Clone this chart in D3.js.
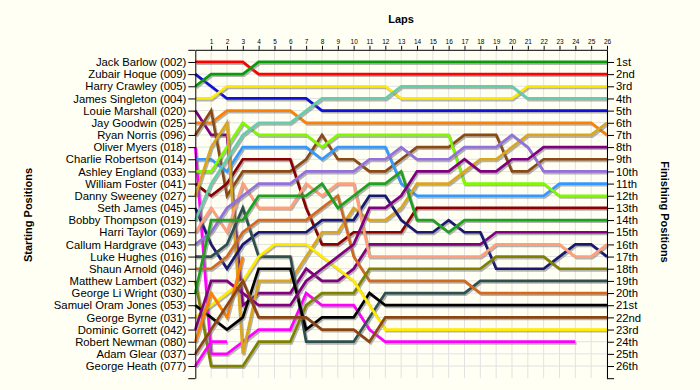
<!DOCTYPE html>
<html><head><meta charset="utf-8">
<script src="https://cdn.jsdelivr.net/npm/d3@7"></script>
<style>
html,body{margin:0;padding:0;background:#fffff4;}
svg{display:block;font-family:Arial,"Liberation Sans",sans-serif;}
</style>
</head><body>
<svg id="chart" width="700" height="390"></svg>
<script>
// ---------- data ----------
const drivers = ["Jack Barlow (002)","Zubair Hoque (009)","Harry Crawley (005)","James Singleton (004)",
"Louie Marshall (020)","Jay Goodwin (025)","Ryan Norris (096)","Oliver Myers (018)","Charlie Robertson (014)",
"Ashley England (033)","William Foster (041)","Danny Sweeney (027)","Seth James (045)","Bobby Thompson (019)",
"Harri Taylor (069)","Callum Hardgrave (043)","Luke Hughes (016)","Shaun Arnold (046)","Matthew Lambert (032)",
"George Li Wright (030)","Samuel Oram Jones (053)","George Byrne (031)","Dominic Gorrett (042)","Robert Newman (080)",
"Adam Glear (037)","George Heath (077)"];
const finishLabels = ["1st","2nd","3rd","4th","5th","6th","7th","8th","9th","10th","11th","12th","13th","14th",
"15th","16th","17th","18th","19th","20th","21st","22nd","23rd","24th","25th","26th"];
const lapLabels = ["1","2","3","4","5","6","7","8","9","10","11","12","13","14","15","16","17","18","19","20","21","22","23","24","25","26"];

// position of each driver at lap 0..26 (null = retired)
const p01 = [1,1,1,1,2,2,2,2,2,2,2,2,2,2,2,2,2,2,2,2,2,2,2,2,2,2,2];
const p02 = [2,3,4,4,4,4,4,4,5,5,5,5,5,5,5,5,5,5,5,5,5,5,5,5,5,5,5];
const p03 = [3,2,2,2,1,1,1,1,1,1,1,1,1,1,1,1,1,1,1,1,1,1,1,1,1,1,1];
const p04 = [4,4,3,3,3,3,3,3,3,3,3,3,3,4,4,4,4,4,4,4,4,3,3,3,3,3,3];
const p05 = [5,7,7,21,20,20,20,18,19,19,18,16,16,16,16,16,16,16,16,15,15,15,15,15,15,15,15];
const p06 = [6,6,5,5,5,5,5,6,6,6,6,6,6,6,6,6,6,6,6,6,6,6,6,6,6,6,7];
const p07 = [7,5,12,10,10,10,10,9,7,9,9,10,10,9,8,8,8,7,7,7,10,10,9,9,9,9,9];
const p08 = [8,25,25,24,23,23,23,20,21,21,21,23,24,24,24,24,24,24,24,24,24,24,24,24,24,null,null];
const p09 = [9,9,10,8,8,8,8,8,9,8,8,8,8,11,12,12,12,12,12,12,12,12,12,11,11,11,11];
const p10 = [10,10,8,6,7,7,7,7,8,7,7,7,7,7,7,7,7,11,11,11,11,11,11,12,12,12,12];
const p11 = [11,12,11,9,9,9,9,13,16,16,15,15,15,15,13,13,13,13,13,13,13,13,13,13,13,13,13];
const p12 = [12,8,6,25,19,19,19,17,15,15,13,14,14,13,11,11,11,10,9,9,8,7,7,7,7,7,6];
const p13 = [13,16,18,16,15,15,15,15,14,14,14,12,12,14,15,15,14,15,15,18,18,18,18,17,16,16,17];
const p14 = [14,11,9,7,6,6,6,5,4,4,4,4,4,3,3,3,3,3,3,3,3,4,4,4,4,4,4];
const p15 = [15,13,15,11,13,13,13,11,12,11,11,17,17,17,17,17,17,17,17,16,16,16,16,16,17,17,16];
const p16 = [16,15,13,12,11,11,11,10,10,10,10,9,9,8,9,9,9,8,8,8,7,8,10,10,10,10,10];
const p17 = [17,17,16,13,17,17,17,24,24,24,24,22,20,20,20,20,20,20,19,19,19,19,19,19,19,19,19];
const p18 = [18,18,17,15,14,14,14,14,13,12,17,19,19,19,19,19,19,19,20,20,20,20,20,20,20,20,20];
const p19 = [19,26,26,26,24,24,24,21,20,20,20,18,18,18,18,18,18,18,18,17,17,17,17,18,18,18,18];
const p20 = [20,14,14,14,12,12,12,12,11,13,12,11,11,10,14,14,15,14,14,14,14,14,14,14,14,14,14];
const p21 = [21,22,23,22,18,18,18,23,22,22,22,20,21,21,21,21,21,21,21,21,21,21,21,21,21,21,21];
const p22 = [22,21,20,19,17,16,16,16,17,18,19,21,23,23,23,23,23,23,23,23,23,23,23,23,23,23,23];
const p23 = [23,19,19,20,21,21,21,19,18,17,16,13,13,12,10,10,10,9,10,10,9,9,8,8,8,8,8];
const p24 = [24,20,22,17,null,null,null,null,null,null,null,null,null,null,null,null,null,null,null,null,null,null,null,null,null,null,null];
const p25 = [25,23,21,19,22,22,22,22,23,23,23,24,22,22,22,22,22,22,22,22,22,22,22,22,22,22,22];
const p26 = [26,24,24,null,null,null,null,null,null,null,null,null,null,null,null,null,null,null,null,null,null,null,null,null,null,null,null];

const lineColors = ["#ff0000","#1010d8","#0a9a0a","#ffea00","#800080","#ff8000","#8b4a14","#ff00ff",
"#3399ff","#80f800","#8b0000","#daa520","#191970","#66cdaa","#ffa07a","#9370db","#2f4f4f","#d2691e",
"#808000","#20a020","#000000","#ffea00","#800080","#ff8000","#8b4513","#ff00ff"];

const positions = [p01,p02,p03,p04,p05,p06,p07,p08,p09,p10,p11,p12,p13,p14,p15,p16,p17,p18,p19,p20,p21,p22,p23,p24,p25,p26];

// ---------- drawing ----------
const svg = d3.select("#chart");
const x = d3.scaleLinear().domain([0,26]).range([195.3,607]);
const y = d3.scaleLinear().domain([0,27]).range([49.8,378.2]);

const g = svg.append("g");

// grid
g.append("g").selectAll("line").data(d3.range(1,27)).join("line")
  .attr("x1",d=>x(d)).attr("x2",d=>x(d)).attr("y1",y(0)).attr("y2",y(27))
  .attr("stroke","#e2e2e2").attr("stroke-width",1);
g.append("g").selectAll("line").data(d3.range(1,27)).join("line")
  .attr("x1",x(0)).attr("x2",x(26)).attr("y1",d=>y(d)).attr("y2",d=>y(d))
  .attr("stroke","#e2e2e2").attr("stroke-width",1);

// lines
const line = d3.line().defined(d=>d[1]!==null).x(d=>x(d[0])).y(d=>y(d[1]));
positions.forEach((arr,i)=>{
  const pts = arr.map((v,k)=>[k,v]);
  g.append("path").datum(pts).attr("d",line).attr("fill","none")
    .attr("stroke","#777").attr("stroke-opacity",0.55).attr("stroke-width",2.7)
    .attr("stroke-linejoin","miter").attr("transform","translate(1.3,1.6)");
  g.append("path").datum(pts).attr("d",line).attr("fill","none")
    .attr("stroke",lineColors[i]).attr("stroke-width",2.7).attr("stroke-linejoin","miter");
});

// axes
const fmtAxis = sel => { sel.select(".domain").attr("stroke","#000"); sel.selectAll(".tick line").attr("stroke","#000"); };
const leftAx = d3.axisLeft(y).tickValues(d3.range(0,28)).tickSize(7).tickPadding(2).tickSizeOuter(0)
  .tickFormat(d=> (d>=1 && d<=26) ? drivers[d-1] : "");
svg.append("g").attr("transform",`translate(${x(0)},0)`).call(leftAx).call(fmtAxis)
  .selectAll("text").attr("font-size",11.3).attr("fill","#000").attr("font-family","Arial, 'Liberation Sans', sans-serif");

const rightAx = d3.axisRight(y).tickValues(d3.range(1,28)).tickSize(7).tickPadding(2).tickSizeOuter(0)
  .tickFormat(d=> (d>=1 && d<=26) ? finishLabels[d-1] : "");
svg.append("g").attr("transform",`translate(${x(26)},0)`).call(rightAx).call(fmtAxis)
  .selectAll("text").attr("font-size",11.3).attr("fill","#000").attr("font-family","Arial, 'Liberation Sans', sans-serif");

const topAx = d3.axisTop(x).tickValues(d3.range(1,27)).tickSize(4).tickPadding(2).tickSizeOuter(0)
  .tickFormat(d=>lapLabels[d-1]);
svg.append("g").attr("transform",`translate(0,${y(0)})`).call(topAx).call(fmtAxis)
  .selectAll("text").attr("font-size",6.5).attr("fill","#000").attr("font-family","Arial, 'Liberation Sans', sans-serif");

// titles
svg.append("text").attr("x",401).attr("y",23).attr("text-anchor","middle")
  .attr("font-size",11).attr("font-weight","bold").text("Laps");
svg.append("text").attr("transform",`translate(32,215) rotate(-90)`).attr("text-anchor","middle")
  .attr("font-size",11).attr("font-weight","bold").text("Starting Positions");
svg.append("text").attr("transform",`translate(661,212) rotate(90)`).attr("text-anchor","middle")
  .attr("font-size",11).attr("font-weight","bold").text("Finishing Positions");
</script>
</body></html>
